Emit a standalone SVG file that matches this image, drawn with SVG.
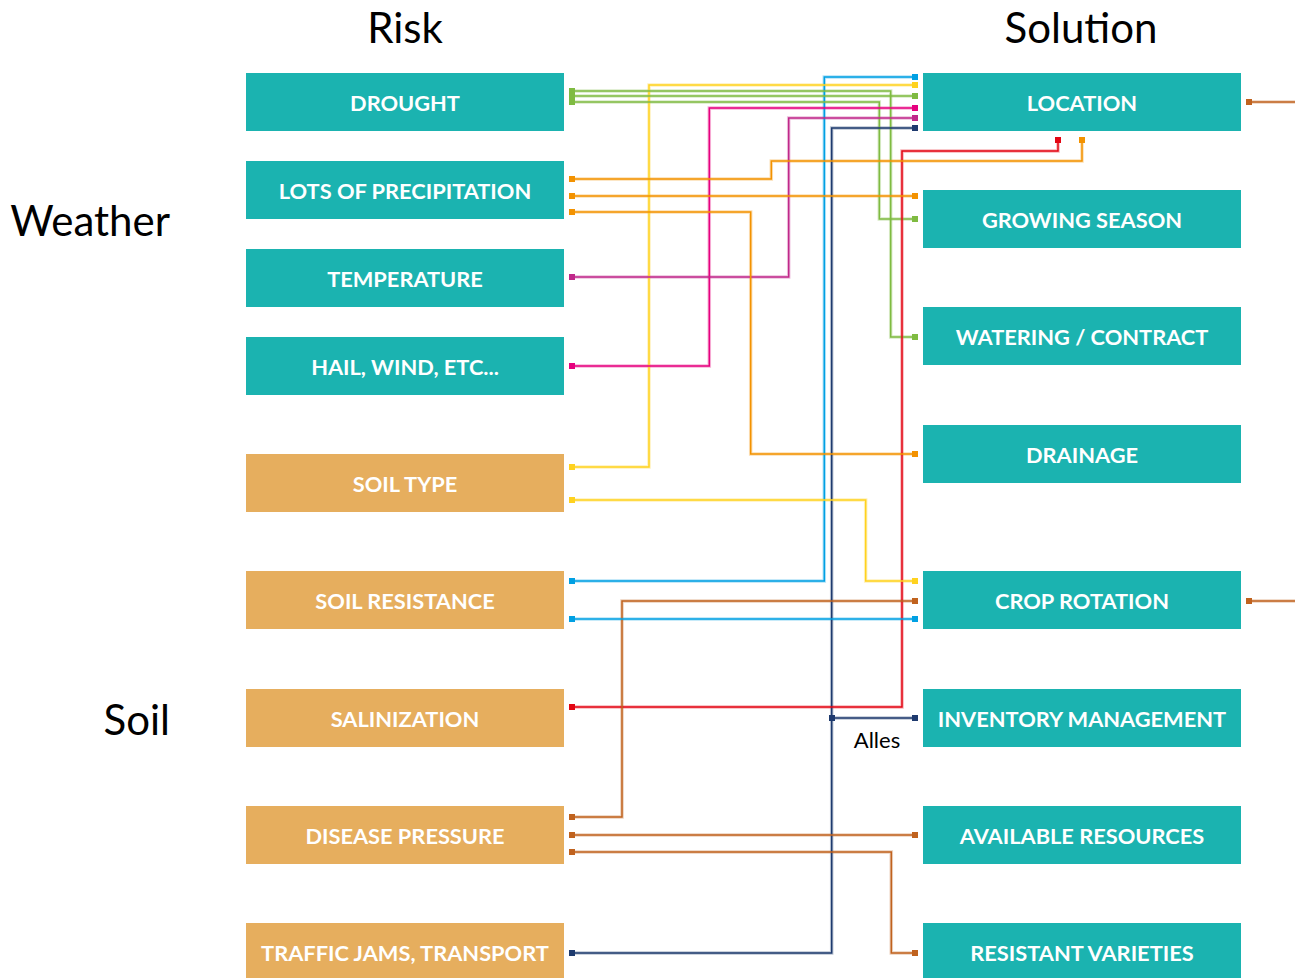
<svg xmlns="http://www.w3.org/2000/svg" width="1295" height="978" viewBox="0 0 1295 978">
<style>
.teal{fill:#1bb3b0}
.sand{fill:#e6ae5e}
.lbl{font-family:Lato,"Liberation Sans",sans-serif;font-weight:bold;font-size:21.8px;fill:#fff;text-anchor:middle}
.hdr{font-family:Lato,"Liberation Sans",sans-serif;font-size:42px;fill:#000}
.c{fill:none;stroke-width:1.5}
.h{fill:none;stroke-width:3.5;opacity:0.3}
.small{font-family:Lato,"Liberation Sans",sans-serif;font-size:22px;fill:#000}
</style>
<rect width="1295" height="978" fill="#fff"/>
<text class="hdr" x="405" y="43" text-anchor="middle">Risk</text>
<text class="hdr" x="1081" y="43" text-anchor="middle">Solution</text>
<text class="hdr" x="170" y="236" text-anchor="end">Weather</text>
<text class="hdr" x="170" y="735" text-anchor="end">Soil</text>

<g id="connectors">
<g class="halo">
<path class="h" stroke="#00a0e3" d="M915 77H824.3V581H572"/>
<path class="h" stroke="#ffd21f" d="M915 85H649V467H572"/>
<path class="h" stroke="#7fbb41" d="M572 91H890.7V337H915"/>
<path class="h" stroke="#7fbb41" d="M572 96H915"/>
<path class="h" stroke="#7fbb41" d="M572 102H879.3V219H915"/>
<path class="h" stroke="#e6007e" d="M915 108H709.3V366H572"/>
<path class="h" stroke="#c0288a" d="M915 118H788.7V277H572"/>
<path class="h" stroke="#1e3a6e" d="M915 128H831.7V953H572"/>
<path class="h" stroke="#1e3a6e" d="M831.7 718H915"/>
<path class="h" stroke="#e30613" d="M572 707H902V151H1058V140"/>
<path class="h" stroke="#f39200" d="M572 179H771.3V161H1082V140"/>
<path class="h" stroke="#f39200" d="M572 196H915"/>
<path class="h" stroke="#f39200" d="M572 212H750.7V454H915"/>
<path class="h" stroke="#ffd21f" d="M572 500H865.7V581H915"/>
<path class="h" stroke="#c0621e" d="M915 601H622V817H572"/>
<path class="h" stroke="#00a0e3" d="M572 619H915"/>
<path class="h" stroke="#c0621e" d="M572 835H915"/>
<path class="h" stroke="#c0621e" d="M572 852H891.3V953H915"/>
<path class="h" stroke="#c0621e" d="M1249 102H1295"/>
<path class="h" stroke="#c0621e" d="M1249 601H1295"/>
</g>
<path class="c" stroke="#00a0e3" d="M915 77H824.3V581H572"/>
<path class="c" stroke="#ffd21f" d="M915 85H649V467H572"/>
<path class="c" stroke="#7fbb41" d="M572 91H890.7V337H915"/>
<path class="c" stroke="#7fbb41" d="M572 96H915"/>
<path class="c" stroke="#7fbb41" d="M572 102H879.3V219H915"/>
<path class="c" stroke="#e6007e" d="M915 108H709.3V366H572"/>
<path class="c" stroke="#c0288a" d="M915 118H788.7V277H572"/>
<path class="c" stroke="#1e3a6e" d="M915 128H831.7V953H572"/>
<path class="c" stroke="#1e3a6e" d="M831.7 718H915"/>
<path class="c" stroke="#e30613" d="M572 707H902V151H1058V140"/>
<path class="c" stroke="#f39200" d="M572 179H771.3V161H1082V140"/>
<path class="c" stroke="#f39200" d="M572 196H915"/>
<path class="c" stroke="#f39200" d="M572 212H750.7V454H915"/>
<path class="c" stroke="#ffd21f" d="M572 500H865.7V581H915"/>
<path class="c" stroke="#c0621e" d="M915 601H622V817H572"/>
<path class="c" stroke="#00a0e3" d="M572 619H915"/>
<path class="c" stroke="#c0621e" d="M572 835H915"/>
<path class="c" stroke="#c0621e" d="M572 852H891.3V953H915"/>
<path class="c" stroke="#c0621e" d="M1249 102H1295"/>
<path class="c" stroke="#c0621e" d="M1249 601H1295"/>
<!-- ports -->
<rect x="569" y="88" width="6" height="17" fill="#7fbb41"/>
<rect x="569" y="176" width="6" height="6" fill="#f39200"/>
<rect x="569" y="193" width="6" height="6" fill="#f39200"/>
<rect x="569" y="209" width="6" height="6" fill="#f39200"/>
<rect x="569" y="274" width="6" height="6" fill="#c0288a"/>
<rect x="569" y="363" width="6" height="6" fill="#e6007e"/>
<rect x="569" y="464" width="6" height="6" fill="#ffd21f"/>
<rect x="569" y="497" width="6" height="6" fill="#ffd21f"/>
<rect x="569" y="578" width="6" height="6" fill="#00a0e3"/>
<rect x="569" y="616" width="6" height="6" fill="#00a0e3"/>
<rect x="569" y="704" width="6" height="6" fill="#e30613"/>
<rect x="569" y="814" width="6" height="6" fill="#c0621e"/>
<rect x="569" y="832" width="6" height="6" fill="#c0621e"/>
<rect x="569" y="849" width="6" height="6" fill="#c0621e"/>
<rect x="569" y="950" width="6" height="6" fill="#1e3a6e"/>
<rect x="912" y="74" width="6" height="6" fill="#00a0e3"/>
<rect x="912" y="82" width="6" height="6" fill="#ffd21f"/>
<rect x="912" y="93" width="6" height="6" fill="#7fbb41"/>
<rect x="912" y="105" width="6" height="6" fill="#e6007e"/>
<rect x="912" y="115" width="6" height="6" fill="#c0288a"/>
<rect x="912" y="125" width="6" height="6" fill="#1e3a6e"/>
<rect x="1055" y="137" width="6" height="6" fill="#e30613"/>
<rect x="1079" y="137" width="6" height="6" fill="#f39200"/>
<rect x="912" y="193" width="6" height="6" fill="#f39200"/>
<rect x="912" y="216" width="6" height="6" fill="#7fbb41"/>
<rect x="912" y="334" width="6" height="6" fill="#7fbb41"/>
<rect x="912" y="451" width="6" height="6" fill="#f39200"/>
<rect x="912" y="578" width="6" height="6" fill="#ffd21f"/>
<rect x="912" y="598" width="6" height="6" fill="#c0621e"/>
<rect x="912" y="616" width="6" height="6" fill="#00a0e3"/>
<rect x="829" y="715" width="6" height="6" fill="#1e3a6e"/>
<rect x="912" y="715" width="6" height="6" fill="#1e3a6e"/>
<rect x="912" y="832" width="6" height="6" fill="#c0621e"/>
<rect x="912" y="950" width="6" height="6" fill="#c0621e"/>
<rect x="1246" y="99" width="6" height="6" fill="#c0621e"/>
<rect x="1246" y="598" width="6" height="6" fill="#c0621e"/>
<text class="small" x="877" y="748" text-anchor="middle">Alles</text>
</g>

<g id="n-drought"><rect class="teal" x="246" y="73" width="318" height="58"/><text class="lbl" x="405" y="111">DROUGHT</text></g>
<g id="n-precip"><rect class="teal" x="246" y="161" width="318" height="58"/><text class="lbl" x="405" y="199">LOTS OF PRECIPITATION</text></g>
<g id="n-temp"><rect class="teal" x="246" y="249" width="318" height="58"/><text class="lbl" x="405" y="287">TEMPERATURE</text></g>
<g id="n-hail"><rect class="teal" x="246" y="337" width="318" height="58"/><text class="lbl" x="405" y="375">HAIL, WIND, ETC...</text></g>
<g id="n-soiltype"><rect class="sand" x="246" y="454" width="318" height="58"/><text class="lbl" x="405" y="492">SOIL TYPE</text></g>
<g id="n-soilres"><rect class="sand" x="246" y="571" width="318" height="58"/><text class="lbl" x="405" y="609">SOIL RESISTANCE</text></g>
<g id="n-salin"><rect class="sand" x="246" y="689" width="318" height="58"/><text class="lbl" x="405" y="727">SALINIZATION</text></g>
<g id="n-disease"><rect class="sand" x="246" y="806" width="318" height="58"/><text class="lbl" x="405" y="844">DISEASE PRESSURE</text></g>
<g id="n-traffic"><rect class="sand" x="246" y="923" width="318" height="58"/><text class="lbl" x="405" y="961">TRAFFIC JAMS, TRANSPORT</text></g>

<g id="n-location"><rect class="teal" x="923" y="73" width="318" height="58"/><text class="lbl" x="1082" y="111">LOCATION</text></g>
<g id="n-growing"><rect class="teal" x="923" y="190" width="318" height="58"/><text class="lbl" x="1082" y="228">GROWING SEASON</text></g>
<g id="n-watering"><rect class="teal" x="923" y="307" width="318" height="58"/><text class="lbl" x="1082" y="345">WATERING / CONTRACT</text></g>
<g id="n-drainage"><rect class="teal" x="923" y="425" width="318" height="58"/><text class="lbl" x="1082" y="463">DRAINAGE</text></g>
<g id="n-croprot"><rect class="teal" x="923" y="571" width="318" height="58"/><text class="lbl" x="1082" y="609">CROP ROTATION</text></g>
<g id="n-inventory"><rect class="teal" x="923" y="689" width="318" height="58"/><text class="lbl" x="1082" y="727">INVENTORY MANAGEMENT</text></g>
<g id="n-available"><rect class="teal" x="923" y="806" width="318" height="58"/><text class="lbl" x="1082" y="844">AVAILABLE RESOURCES</text></g>
<g id="n-resistant"><rect class="teal" x="923" y="923" width="318" height="58"/><text class="lbl" x="1082" y="961">RESISTANT VARIETIES</text></g>
</svg>
